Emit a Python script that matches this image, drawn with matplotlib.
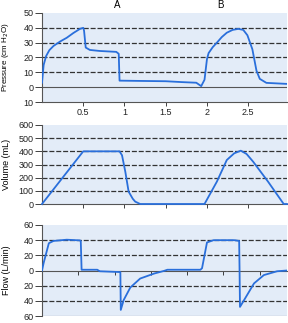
import numpy as np
import matplotlib
matplotlib.use('Agg')
import matplotlib.pyplot as plt

plt.rcParams['font.family'] = ['Liberation Sans', 'DejaVu Sans']

# pressure trace (s, cm H2O)
p_t = [0.0, 0.02, 0.05, 0.09, 0.14, 0.22, 0.30, 0.38, 0.46, 0.50, 0.51, 0.53, 0.58, 0.70,
       0.90, 0.93, 0.94, 1.20, 1.50, 1.70, 1.87, 1.93, 1.97, 2.00, 2.02, 2.07, 2.12,
       2.18, 2.24, 2.31, 2.38, 2.44, 2.49, 2.55, 2.60, 2.64, 2.72, 2.97]
p_v = [3, 15, 21, 25, 27.8, 30.8, 33.3, 36.5, 39.3, 40, 38, 26.7, 25.1, 24.4,
       23.8, 22.5, 4.4, 4.2, 4, 3.4, 3, 0.7, 5, 19, 23, 27, 30,
       33.8, 36.7, 38.6, 39.3, 38.6, 35, 25.6, 11.1, 5.6, 2.9, 2.2]

# volume trace (s, mL)
v_t = [0.0, 0.50, 0.94, 0.97, 1.01, 1.05, 1.10, 1.13, 1.19, 1.97, 2.12, 2.24, 2.33, 2.41,
       2.48, 2.56, 2.74, 2.93, 2.97]
v_v = [0, 400, 400, 370, 245, 94, 40, 18, 0, 0, 170, 334, 385, 405,
       380, 321, 170, 0, 0]

# flow trace (s, L/min)
f_t = [0.0, 0.02, 0.083, 0.14, 0.30, 0.46, 0.47, 0.48, 0.67, 0.70, 0.93, 0.95, 0.955,
       0.99, 1.07, 1.19, 1.36, 1.48, 1.52, 1.92, 1.94, 2.00, 2.08, 2.33, 2.39, 2.395,
       2.40, 2.45, 2.57, 2.69, 2.85, 2.97]
f_v = [0, 10, 36, 39, 40.6, 39.7, 39, 1, 1, -1, -2, -2, -52,
       -39, -22.5, -10.6, -4, -0.5, 1, 1, 3, 37, 40, 40, 39, 0,
       -48, -39, -17, -6, -1, 0]

p_ticks = [50, 40, 30, 20, 10, 0, -10]
v_ticks = [600, 500, 400, 300, 200, 100, 0]
f_ticks = [60, 40, 20, 0, -20, -40, -60]
x_ticks = [0.5, 1, 1.5, 2, 2.5]
f_xticks = [0.44, 0.88, 1.32, 1.76, 2.2, 2.64]

bg = '#e3ecf8'
line_c = '#2a6fdb'
fs = 6.5

fig = plt.figure(figsize=(2.88, 3.23), dpi=100)
W, H = 288.0, 323.0
def add_ax(x0, y0, x1, y1):
    return fig.add_axes([x0 / W, 1 - y1 / H, (x1 - x0) / W, (y1 - y0) / H])

ax1 = add_ax(42, 13, 287, 102)
ax2 = add_ax(42, 125, 287, 204)
ax3 = add_ax(42, 225, 287, 316)

def style(ax, yt, ylim, label, lfs=fs):
    ax.set_facecolor(bg)
    ax.set_xlim(0, 2.97)
    ax.set_ylim(*ylim)
    ax.set_yticks(yt)
    ax.set_yticklabels([str(abs(v)) for v in yt], fontsize=fs)
    for v in yt:
        if v not in ylim and v != 0:
            ax.axhline(v, color='#333333', lw=0.9, ls=(0, (4, 1.5)), zorder=1)
    ax.spines['top'].set_visible(False)
    ax.spines['right'].set_visible(False)
    ax.spines['left'].set_color('#555555')
    ax.spines['bottom'].set_color('#555555')
    ax.tick_params(axis='y', length=5, width=0.6, pad=1, colors='#222222')
    ax.tick_params(axis='x', length=3, width=0.6, pad=1, colors='#222222', labelsize=fs)
    ax.set_ylabel(label, fontsize=lfs)
    ax.yaxis.set_label_coords(-0.125, 0.5)

style(ax1, p_ticks, (-10, 50), 'Pressure (cm H$_2$O)', lfs=5.8)
ax1.axhline(0, color='#555555', lw=0.8, zorder=1)
ax1.set_xticks(x_ticks)
ax1.set_xticklabels(['0.5', '1', '1.5', '2', '2.5'])
ax1.plot(p_t, p_v, color=line_c, lw=1.3, zorder=3)
fig.text(117 / W, 1 - 5 / H, 'A', ha='center', va='center', fontsize=fs + 0.5)
fig.text(220 / W, 1 - 5 / H, 'B', ha='center', va='center', fontsize=fs + 0.5)

style(ax2, v_ticks, (0, 600), 'Volume (mL)')
ax2.set_xticks(x_ticks)
ax2.set_xticklabels([])
ax2.plot(v_t, v_v, color=line_c, lw=1.3, zorder=3, clip_on=False)

style(ax3, f_ticks, (-60, 60), 'Flow (L/min)')
ax3.spines['bottom'].set_position(('data', 0))
ax3.axhline(-60, color='#555555', lw=0.8, zorder=1)
ax3.set_xticks(f_xticks)
ax3.set_xticklabels([])
ax3.plot(f_t, f_v, color=line_c, lw=1.3, zorder=3)

fig.savefig('out.png', dpi=100)
